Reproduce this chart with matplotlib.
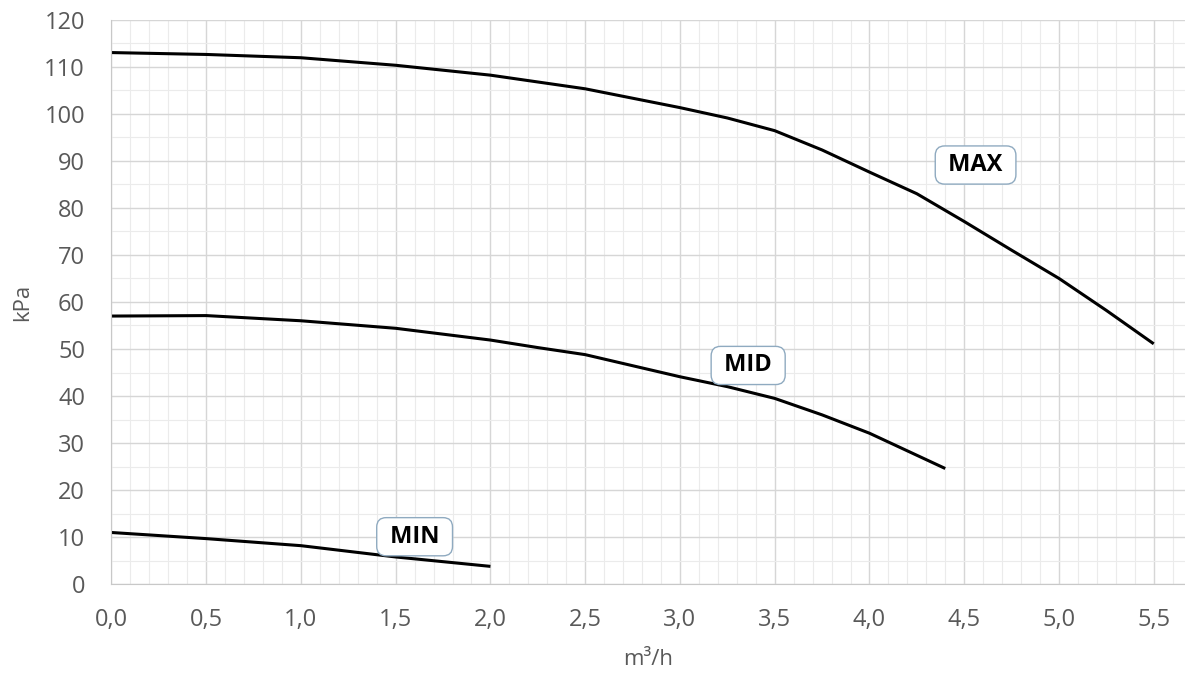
import matplotlib.pyplot as plt
from matplotlib.ticker import MultipleLocator, FuncFormatter

# flow (m3/h) and pressure (kPa)
x_max = [0.0, 0.5, 1.0, 1.5, 2.0, 2.5, 3.0, 3.25, 3.5, 3.75, 4.0, 4.25, 4.5, 4.75, 5.0, 5.25, 5.5]
y_max = [113, 112.6, 111.9, 110.3, 108.2, 105.3, 101.3, 99.1, 96.4, 92.3, 87.6, 83.0, 77.1, 71.0, 65.0, 58.2, 51.1]

x_mid = [0.0, 0.5, 1.0, 1.5, 2.0, 2.25, 2.5, 3.0, 3.25, 3.5, 3.75, 4.0, 4.4]
y_mid = [57.0, 57.1, 56.0, 54.4, 51.9, 50.3, 48.8, 44.1, 42.0, 39.5, 36.0, 32.1, 24.6]

x_min = [0.0, 0.5, 1.0, 1.5, 2.0]
y_min = [11.0, 9.7, 8.2, 5.8, 3.8]

labels = ["MAX", "MID", "MIN"]
label_pos = [(4.56, 89.1), (3.36, 46.5), (1.60, 10.1)]

plt.rcParams['font.family'] = ['Open Sans', 'DejaVu Sans']

fig = plt.figure(figsize=(11.85, 6.77), dpi=100)
ax = fig.add_axes([0.094, 0.137, 0.906, 0.834])

for xs, ys in [(x_max, y_max), (x_mid, y_mid), (x_min, y_min)]:
    ax.plot(xs, ys, color="black", lw=2.2, solid_capstyle="butt", solid_joinstyle="round")

for txt, (lx, ly) in zip(labels, label_pos):
    ax.text(lx, ly, " " + txt + " ", fontsize=17, fontweight="bold", ha="center", va="center",
            bbox=dict(boxstyle="round,pad=0.3,rounding_size=0.4", fc="white",
                      ec="#8faac0", lw=1.0), zorder=5)

ax.set_xlim(0, 5.665)
ax.set_ylim(0, 120)
ax.xaxis.set_major_locator(MultipleLocator(0.5))
ax.xaxis.set_minor_locator(MultipleLocator(0.1))
ax.yaxis.set_major_locator(MultipleLocator(10))
ax.yaxis.set_minor_locator(MultipleLocator(5))
ax.xaxis.set_major_formatter(FuncFormatter(lambda v, p: f"{v:.1f}".replace(".", ",")))

ax.grid(which="major", color="#d6d6d6", lw=1.0)
ax.grid(which="minor", color="#ebebeb", lw=0.8)
ax.set_axisbelow(True)

for s in ["top", "right"]:
    ax.spines[s].set_visible(False)
for s in ["left", "bottom"]:
    ax.spines[s].set_color("#c8c8c8")
ax.tick_params(which="both", length=0, colors="#595959", labelsize=17)
ax.tick_params(axis="x", pad=17)
ax.tick_params(axis="y", pad=19)

ax.set_xlabel("m³/h", fontsize=16, color="#595959", labelpad=12)
ax.set_ylabel("kPa", fontsize=16, color="#595959", labelpad=8)

fig.savefig("out.png", dpi=100)
